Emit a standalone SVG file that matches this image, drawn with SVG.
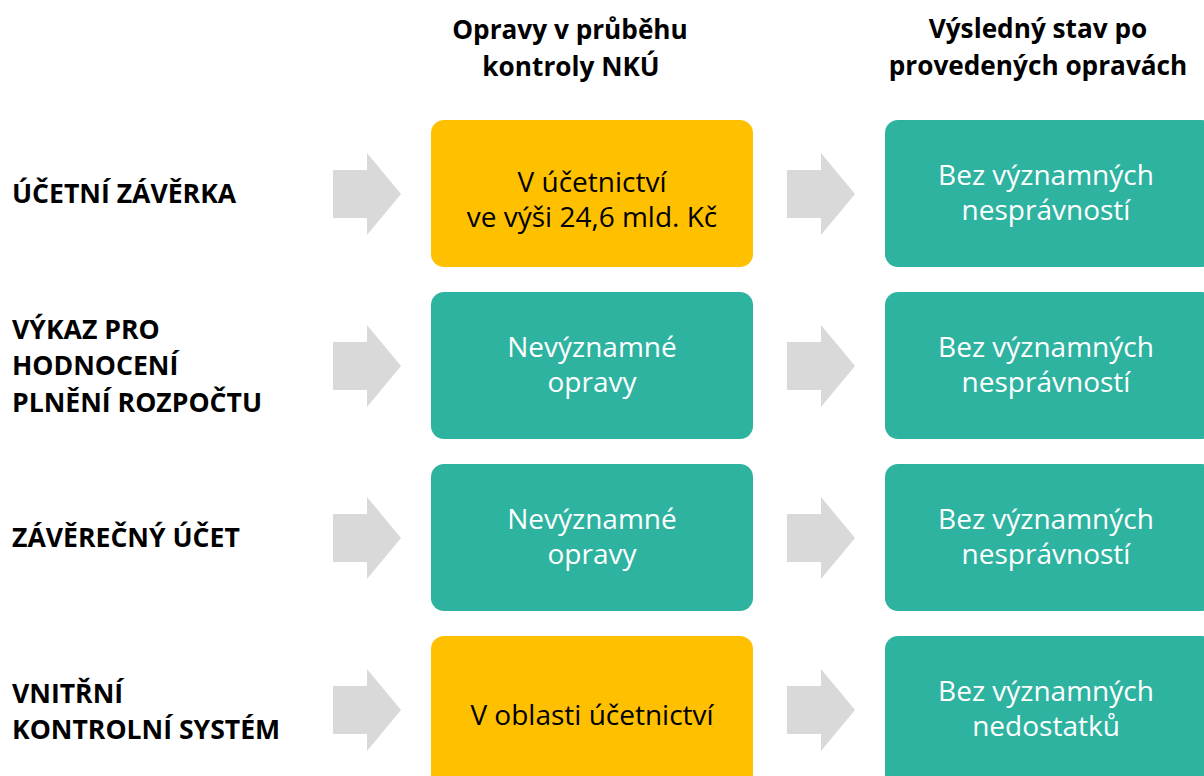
<svg xmlns="http://www.w3.org/2000/svg" width="1204" height="776" viewBox="0 0 1204 776">
<style>
  .lbl{font-family:"Open Sans","Noto Sans",sans-serif;font-weight:bold;font-size:26.6px;fill:#000}
  .hdr{font-family:"Open Sans","Noto Sans",sans-serif;font-weight:bold;font-size:26.2px;fill:#000;text-anchor:middle}
  .yel{fill:#FFC000}
  .teal{fill:#2DB3A0}
  .tb{font-family:"Open Sans","Noto Sans",sans-serif;font-size:28px;text-anchor:middle;fill:#000}
  .tw{font-family:"Open Sans","Noto Sans",sans-serif;font-size:28px;text-anchor:middle;fill:#fff}
  .arr{fill:#D9D9D9}
</style>
<rect width="1204" height="776" fill="#fff"/>
<g id="headers">
  <text class="hdr" x="570" y="39">Opravy v průběhu</text>
  <text class="hdr" x="571" y="76">kontroly NKÚ</text>
  <text class="hdr" x="1038" y="38">Výsledný stav po</text>
  <text class="hdr" x="1038" y="75">provedených opravách</text>
</g>
<g id="labels">
  <text class="lbl" x="12" y="203">ÚČETNÍ ZÁVĚRKA</text>
  <text class="lbl" x="12" y="339">VÝKAZ PRO</text>
  <text class="lbl" x="12" y="375">HODNOCENÍ</text>
  <text class="lbl" x="12" y="412">PLNĚNÍ ROZPOČTU</text>
  <text class="lbl" x="12" y="547">ZÁVĚREČNÝ ÚČET</text>
  <text class="lbl" x="12" y="703">VNITŘNÍ</text>
  <text class="lbl" x="12" y="739">KONTROLNÍ SYSTÉM</text>
</g>
<g id="connectors">
  <polygon class="arr" points="333,170 367,170 367,153 401,194 367,235 367,218 333,218"/>
  <polygon class="arr" points="787,170 821,170 821,153 855,194 821,235 821,218 787,218"/>
  <polygon class="arr" points="333,342 367,342 367,325 401,366 367,407 367,390 333,390"/>
  <polygon class="arr" points="787,342 821,342 821,325 855,366 821,407 821,390 787,390"/>
  <polygon class="arr" points="333,514 367,514 367,497 401,538 367,579 367,562 333,562"/>
  <polygon class="arr" points="787,514 821,514 821,497 855,538 821,579 821,562 787,562"/>
  <polygon class="arr" points="333,686 367,686 367,669 401,710 367,751 367,734 333,734"/>
  <polygon class="arr" points="787,686 821,686 821,669 855,710 821,751 821,734 787,734"/>
</g>
<g id="fix1">
  <rect class="yel" x="431" y="120" width="322" height="147" rx="13"/>
  <text class="tb" x="592" y="192">V účetnictví</text>
  <text class="tb" x="592" y="227">ve výši 24,6 mld. Kč</text>
</g>
<g id="res1">
  <rect class="teal" x="885" y="120" width="330" height="147" rx="13"/>
  <text class="tw" x="1046" y="184.5">Bez významných</text>
  <text class="tw" x="1046" y="219.5">nesprávností</text>
</g>
<g id="fix2">
  <rect class="teal" x="431" y="292" width="322" height="147" rx="13"/>
  <text class="tw" x="592" y="356.5">Nevýznamné</text>
  <text class="tw" x="592" y="391.5">opravy</text>
</g>
<g id="res2">
  <rect class="teal" x="885" y="292" width="330" height="147" rx="13"/>
  <text class="tw" x="1046" y="356.5">Bez významných</text>
  <text class="tw" x="1046" y="391.5">nesprávností</text>
</g>
<g id="fix3">
  <rect class="teal" x="431" y="464" width="322" height="147" rx="13"/>
  <text class="tw" x="592" y="528.5">Nevýznamné</text>
  <text class="tw" x="592" y="563.5">opravy</text>
</g>
<g id="res3">
  <rect class="teal" x="885" y="464" width="330" height="147" rx="13"/>
  <text class="tw" x="1046" y="528.5">Bez významných</text>
  <text class="tw" x="1046" y="563.5">nesprávností</text>
</g>
<g id="fix4">
  <rect class="yel" x="431" y="636" width="322" height="160" rx="13"/>
  <text class="tb" x="592" y="725">V oblasti účetnictví</text>
</g>
<g id="res4">
  <rect class="teal" x="885" y="636" width="330" height="160" rx="13"/>
  <text class="tw" x="1046" y="700.5">Bez významných</text>
  <text class="tw" x="1046" y="735.5">nedostatků</text>
</g>
</svg>
